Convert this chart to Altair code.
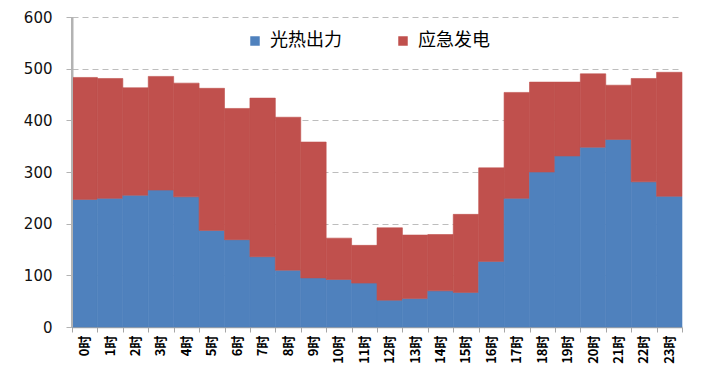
import altair as alt
import pandas as pd

hours = [f"{i}时" for i in range(24)]
solar = [247, 249, 255, 265, 252, 187, 169, 136, 110, 95, 92, 85,
         52, 55, 70, 67, 127, 249, 300, 331, 348, 363, 281, 253]
total = [483, 481, 463, 485, 472, 462, 423, 443, 406, 358, 172, 158,
         192, 178, 179, 218, 308, 454, 474, 474, 490, 468, 481, 493]
series = ["光热出力", "应急发电"]
colors = ["#4F81BD", "#C0504D"]

rows = []
for h, s, t in zip(hours, solar, total):
    rows.append({"hour": h, "series": series[0], "value": s, "ord": 0})
    rows.append({"hour": h, "series": series[1], "value": t - s, "ord": 1})
df = pd.DataFrame(rows)

FONT = "Noto Sans CJK SC"

bars = alt.Chart(df).mark_bar(strokeWidth=0.6, opacity=1, fillOpacity=1, strokeOpacity=1).encode(
    x=alt.X("hour:N", sort=hours, title=None,
            scale=alt.Scale(paddingInner=0, paddingOuter=0),
            axis=alt.Axis(labelAngle=270, tickBand="extent", labelFontSize=13,
                          labelFontWeight="bold", labelColor="#000",
                          labelFont=FONT, domainColor="#a6a6a6", domainWidth=1.5,
                          tickColor="#a6a6a6", tickSize=5, labelPadding=3)),
    y=alt.Y("value:Q", stack="zero", title=None,
            scale=alt.Scale(domain=[0, 600], nice=False),
            axis=alt.Axis(values=[0, 100, 200, 300, 400, 500, 600], labelFontSize=15,
                          labelColor="#111", labelFont="DejaVu Sans", domainColor="#b3b3b3",
                          domainWidth=2, tickColor="#b3b3b3", tickSize=6,
                          labelPadding=14, grid=True, gridDash=[6, 4],
                          gridColor="#bdbdbd", gridWidth=1, zindex=0)),
    color=alt.Color("series:N", scale=alt.Scale(domain=series, range=colors),
                    legend=alt.Legend(title=None, orient="none", direction="horizontal",
                                      legendX=174, legendY=15, symbolType="square",
                                      symbolSize=90, labelFontSize=18, labelFont=FONT,
                                      labelColor="#000", columnPadding=52,
                                      symbolStrokeWidth=0, labelOffset=6)),
    stroke=alt.Stroke("series:N", scale=alt.Scale(domain=series, range=colors), legend=None),
    order=alt.Order("ord:Q"),
)

yline = alt.Chart(pd.DataFrame({"a": [0]})).mark_rule(color="#b3b3b3", strokeWidth=2).encode(
    x=alt.value(0), y=alt.value(0), y2=alt.value(310)
)

chart = alt.layer(bars, yline).properties(
    width=610, height=310,
    autosize=alt.AutoSizeParams(type="none"),
    padding={"left": 64, "top": 9, "right": 10, "bottom": 50},
).configure_view(stroke=None)

chart.save("out.html", embed_options={"renderer": "svg", "actions": False})
